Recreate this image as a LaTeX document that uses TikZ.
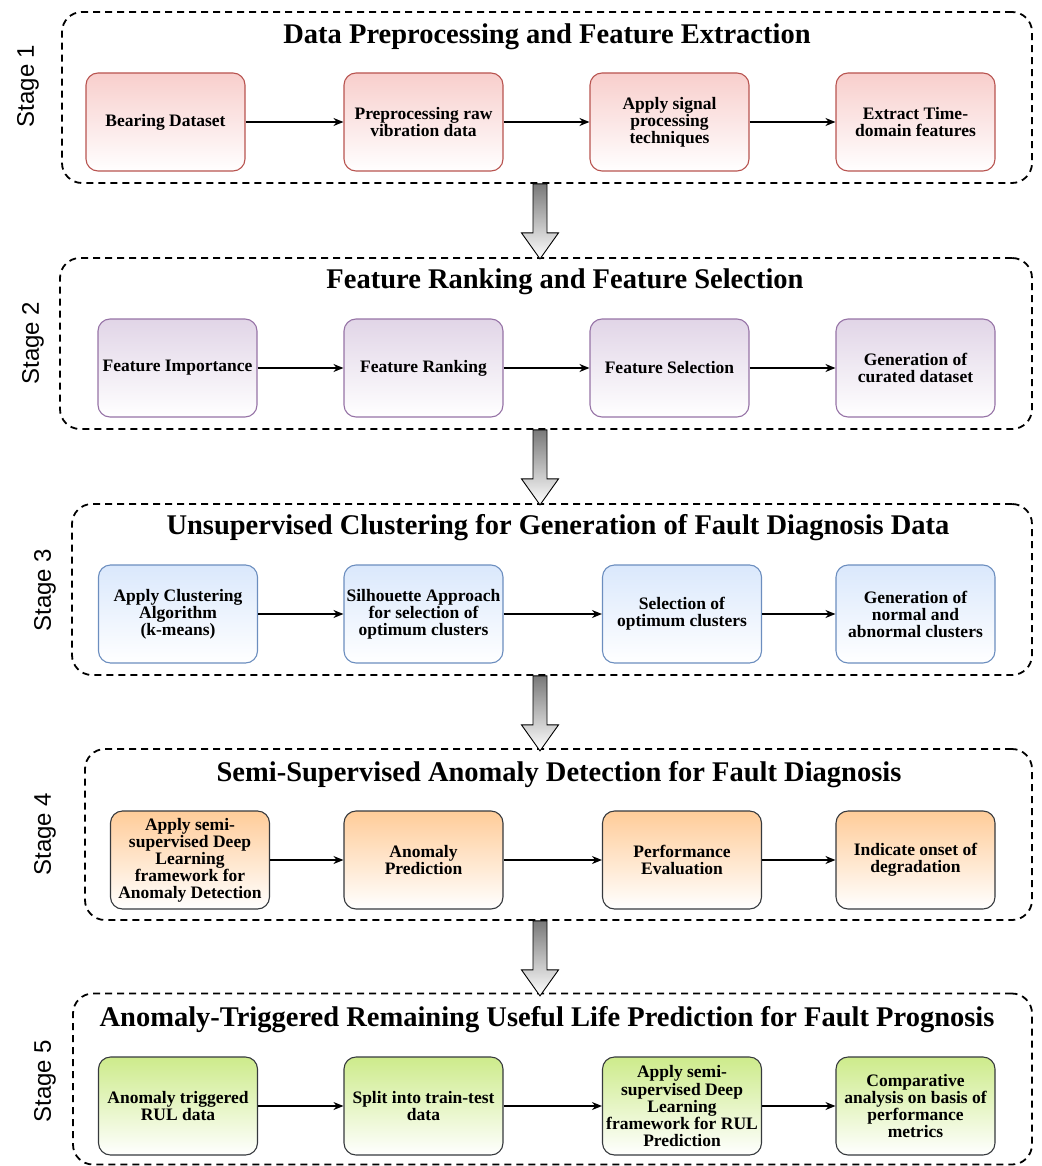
\documentclass[tikz,border=0pt]{standalone}
\usepackage{fontspec}
\setmainfont{Liberation Serif}
\setsansfont{Liberation Sans}
\usetikzlibrary{arrows.meta,calc}

\definecolor{redfill}{HTML}{F8CECC}
\definecolor{redline}{HTML}{B85450}
\definecolor{purplefill}{HTML}{E1D5E7}
\definecolor{purpleline}{HTML}{9673A6}
\definecolor{bluefill}{HTML}{DAE8FC}
\definecolor{blueline}{HTML}{6C8EBF}
\definecolor{orangefill}{HTML}{FFCC99}
\definecolor{greenfill}{HTML}{CDEB8B}
\definecolor{darkline}{HTML}{36393D}

\tikzset{
  stagebox/.style={draw, line width=1.8pt, dash pattern=on 7pt off 5pt, rounded corners=20pt,
    minimum width=#1, minimum height=171pt, inner sep=0pt},
  stagelabel/.style={rotate=90, font=\sffamily\fontsize{24}{28}\selectfont},
  stagetitle/.style={font=\bfseries\fontsize{28.5}{30}\selectfont},
  box/.style={rounded corners=12pt, minimum width=159pt, minimum height=98pt, align=center,
    inner sep=1pt, line width=1.1pt, font=\bfseries\fontsize{17.5}{17}\selectfont},
  redbox/.style={box, draw=redline, top color=redfill, bottom color=white},
  purplebox/.style={box, draw=purpleline, top color=purplefill, bottom color=white},
  bluebox/.style={box, draw=blueline, top color=bluefill, bottom color=white},
  orangebox/.style={box, draw=darkline, top color=orangefill, bottom color=white},
  greenbox/.style={box, draw=darkline, top color=greenfill, bottom color=white},
  flow/.style={-{Stealth[length=10pt,width=8pt]}, line width=1.3pt},
  blockarrow/.style={draw=black, line width=0.9pt, top color=gray!95!black, bottom color=white}
}

\newcommand\bigarrow[1]{\shade[blockarrow] (#1) ++(-7,0) -- ++(0,49) -- ++(-11.5,0)
  -- ++(18.5,26) -- ++(18.5,-26) -- ++(-11.5,0) -- ++(0,-49) -- cycle;}

\begin{document}
\begin{tikzpicture}[x=1pt, y=-1pt]

  \useasboundingbox (0,0) rectangle (1041,1166);
  \coordinate (ax) at (540,0);

  % Stage 1
  \node[stagebox=970pt] (s1) at (547,97.5) {};
  \node[stagelabel] (l1) at (28,86) {Stage 1};
  \node[stagetitle] (t1) at (547,37) {Data Preprocessing and Feature Extraction};
  \node[redbox] (b11) at (165.5,122) {Bearing Dataset};
  \node[redbox] (b12) at (423.5,122) {Preprocessing raw\\vibration data};
  \node[redbox] (b13) at (669.5,122) {Apply signal\\processing\\techniques};
  \node[redbox] (b14) at (915.5,122) {Extract Time-\\domain features};
  \draw[flow] (b11) -- (b12);
  \draw[flow] (b12) -- (b13);
  \draw[flow] (b13) -- (b14);

  % Stage 2
  \node[stagebox=972pt] (s2) at (546,343.5) {};
  \node[stagelabel] (l2) at (33,343) {Stage 2};
  \node[stagetitle] (t2) at (565,282) {Feature Ranking and Feature Selection};
  \node[purplebox] (b21) at (177.5,368) {Feature Importance};
  \node[purplebox] (b22) at (423.5,368) {Feature Ranking};
  \node[purplebox] (b23) at (669.5,368) {Feature Selection};
  \node[purplebox] (b24) at (915.5,368) {Generation of\\curated dataset};
  \draw[flow] (b21) -- (b22);
  \draw[flow] (b22) -- (b23);
  \draw[flow] (b23) -- (b24);

  % Stage 3
  \node[stagebox=960pt] (s3) at (552,589.5) {};
  \node[stagelabel] (l3) at (45,590) {Stage 3};
  \node[stagetitle] (t3) at (558,528) {Unsupervised Clustering for Generation of Fault Diagnosis Data};
  \node[bluebox] (b31) at (178,614) {Apply Clustering\\Algorithm\\(k-means)};
  \node[bluebox] (b32) at (423.5,614) {Silhouette Approach\\for selection of\\optimum clusters};
  \node[bluebox] (b33) at (682,614) {Selection of\\optimum clusters};
  \node[bluebox] (b34) at (915.5,614) {Generation of\\normal and\\abnormal clusters};
  \draw[flow] (b31) -- (b32);
  \draw[flow] (b32) -- (b33);
  \draw[flow] (b33) -- (b34);

  % Stage 4
  \node[stagebox=947pt] (s4) at (558.5,834.5) {};
  \node[stagelabel] (l4) at (45,834) {Stage 4};
  \node[stagetitle] (t4) at (559,775) {Semi-Supervised Anomaly Detection for Fault Diagnosis};
  \node[orangebox] (b41) at (190,860) {Apply semi-\\supervised Deep\\Learning\\framework for\\Anomaly Detection};
  \node[orangebox] (b42) at (423.5,860) {Anomaly\\Prediction};
  \node[orangebox] (b43) at (682,860) {Performance\\Evaluation};
  \node[orangebox] (b44) at (915.5,860) {Indicate onset of\\degradation};
  \draw[flow] (b41) -- (b42);
  \draw[flow] (b42) -- (b43);
  \draw[flow] (b43) -- (b44);

  % Stage 5
  \node[stagebox=959pt] (s5) at (552.5,1079) {};
  \node[stagelabel] (l5) at (45,1081) {Stage 5};
  \node[stagetitle] (t5) at (547,1020) {Anomaly-Triggered Remaining Useful Life Prediction for Fault Prognosis};
  \node[greenbox] (b51) at (178,1106) {Anomaly triggered\\RUL data};
  \node[greenbox] (b52) at (423.5,1106) {Split into train-test\\data};
  \node[greenbox] (b53) at (682,1106) {Apply semi-\\supervised Deep\\Learning\\framework for RUL\\Prediction};
  \node[greenbox] (b54) at (915.5,1106) {Comparative\\analysis on basis of\\performance\\metrics};
  \draw[flow] (b51) -- (b52);
  \draw[flow] (b52) -- (b53);
  \draw[flow] (b53) -- (b54);

  % stage to stage
  \bigarrow{ax |- s1.south}
  \bigarrow{ax |- s2.south}
  \bigarrow{ax |- s3.south}
  \bigarrow{ax |- s4.south}

\end{tikzpicture}
\end{document}
